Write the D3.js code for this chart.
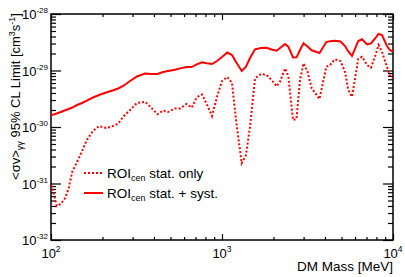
<!DOCTYPE html>
<html>
<head>
<meta charset="utf-8">
<script src="https://d3js.org/d3.v7.min.js"></script>
<style>
body { margin: 0; background: #fff; }
text { font-family: "Liberation Sans", Arial, Helvetica, sans-serif; fill: #000; }
</style>
</head>
<body>
<div id="chart"></div>
<script>
// DM mass points [MeV]
var mass = [100, 104, 108, 114, 121, 127, 133, 142, 152, 162, 176, 191, 210, 231, 247, 267, 290, 318, 355, 385,
  420, 452, 483, 531, 568, 620, 665, 711, 764, 814, 874, 935, 1000, 1074, 1144, 1208, 1304, 1381, 1458, 1560,
  1690, 1826, 1948, 2089, 2184, 2336, 2442, 2602, 2728, 2858, 2998, 3162, 3347, 3717, 4074, 4281, 4578, 4932,
  5241, 5477, 5757, 6268, 6588, 7047, 7433, 7903, 8226, 8626, 9188, 9539, 10000];

// ROI_cen stat. only
var statOnly = [9.41e-32, 6.52e-32, 4.00e-32, 4.34e-32, 5.54e-32, 8.32e-32, 1.60e-31, 2.40e-31, 3.76e-31, 5.89e-31,
  8.50e-31, 1.04e-30, 9.60e-31, 1.04e-30, 1.15e-30, 1.57e-30, 2.00e-30, 2.66e-30, 2.80e-30, 2.21e-30,
  1.68e-30, 1.96e-30, 1.84e-30, 2.13e-30, 2.13e-30, 2.55e-30, 2.20e-30, 3.33e-30, 3.76e-30, 2.55e-30,
  1.57e-30, 3.40e-30, 6.52e-30, 7.67e-30, 6.01e-30, 1.33e-30, 2.28e-31, 3.19e-31, 1.00e-30, 7.28e-30,
  8.67e-30, 8.32e-30, 6.79e-30, 5.25e-30, 6.34e-30, 1.09e-29, 7.99e-30, 1.33e-30, 1.39e-30, 6.79e-30,
  1.34e-29, 9.52e-30, 4.84e-30, 3.13e-30, 1.17e-29, 1.25e-29, 1.58e-29, 1.47e-29, 9.41e-30, 4.52e-30,
  3.44e-30, 1.62e-29, 1.75e-29, 1.25e-29, 1.12e-29, 1.88e-29, 2.83e-29, 2.13e-29, 1.20e-29, 8.32e-30,
  7.22e-30];

// ROI_cen stat. + syst.
var statSyst = [1.63e-30, 1.66e-30, 1.73e-30, 1.84e-30, 1.98e-30, 2.08e-30, 2.21e-30, 2.45e-30, 2.66e-30, 2.94e-30,
  3.33e-30, 3.68e-30, 4.08e-30, 4.46e-30, 4.80e-30, 5.43e-30, 6.52e-30, 7.83e-30, 8.85e-30, 8.67e-30,
  8.67e-30, 9.41e-30, 9.80e-30, 1.03e-29, 1.09e-29, 1.15e-29, 1.15e-29, 1.28e-29, 1.40e-29, 1.34e-29,
  1.30e-29, 1.47e-29, 1.73e-29, 2.08e-29, 1.88e-29, 1.41e-29, 9.80e-30, 1.17e-29, 1.66e-29, 2.37e-29,
  2.50e-29, 2.53e-29, 2.35e-29, 2.24e-29, 2.50e-29, 2.94e-29, 2.64e-29, 1.70e-29, 1.71e-29, 2.31e-29,
  3.03e-29, 2.66e-29, 2.28e-29, 2.04e-29, 3.19e-29, 3.29e-29, 3.37e-29, 3.26e-29, 2.71e-29, 2.17e-29,
  1.81e-29, 3.33e-29, 3.57e-29, 2.89e-29, 3.01e-29, 3.76e-29, 4.43e-29, 4.25e-29, 2.77e-29, 2.35e-29,
  2.13e-29];

var xTicks = [100, 1000, 10000];
var xTickExp = ["2", "3", "4"];
var yTicks = [1e-32, 1e-31, 1e-30, 1e-29, 1e-28];
var yTickExp = ["-32", "-31", "-30", "-29", "-28"];

var margin = {top: 14, right: 12, bottom: 37, left: 51};
var width = 405, height = 277;
var w = width - margin.left - margin.right;
var h = height - margin.top - margin.bottom;

var x = d3.scaleLog().domain([100, 10000]).range([0, w]);
var y = d3.scaleLog().domain([1e-32, 1e-28]).range([h, 0]);

function minors(ticks) {
  var out = [];
  for (var i = 0; i < ticks.length - 1; i++) {
    for (var k = 2; k <= 9; k++) out.push(ticks[i] * k);
  }
  return out;
}

var svg = d3.select("#chart").append("svg")
  .attr("width", width)
  .attr("height", height)
  .append("g")
  .attr("transform", "translate(" + margin.left + "," + margin.top + ")");

// inward ticks on all four sides
function drawAxis(axis, tf) {
  var g = svg.append("g").attr("transform", tf).call(axis);
  g.select(".domain").remove();
  g.selectAll("line").attr("stroke", "#000").attr("stroke-width", 1.2);
}
drawAxis(d3.axisBottom(x).tickValues(minors(xTicks)).tickSize(-3).tickFormat(""), "translate(0," + h + ")");
drawAxis(d3.axisBottom(x).tickValues(xTicks).tickSize(-6).tickFormat(""), "translate(0," + h + ")");
drawAxis(d3.axisTop(x).tickValues(minors(xTicks)).tickSize(-3).tickFormat(""), "translate(0,0)");
drawAxis(d3.axisTop(x).tickValues(xTicks).tickSize(-6).tickFormat(""), "translate(0,0)");
drawAxis(d3.axisLeft(y).tickValues(minors(yTicks)).tickSize(-5).tickFormat(""), "translate(0,0)");
drawAxis(d3.axisLeft(y).tickValues(yTicks).tickSize(-10).tickFormat(""), "translate(0,0)");
drawAxis(d3.axisRight(y).tickValues(minors(yTicks)).tickSize(-5).tickFormat(""), "translate(" + w + ",0)");
drawAxis(d3.axisRight(y).tickValues(yTicks).tickSize(-10).tickFormat(""), "translate(" + w + ",0)");

svg.append("rect")
  .attr("width", w).attr("height", h)
  .attr("fill", "none").attr("stroke", "#000").attr("stroke-width", 1.5);

// tick labels
xTicks.forEach(function(d, i) {
  var t = svg.append("text")
    .attr("x", x(d)).attr("y", h + 18)
    .attr("text-anchor", "middle")
    .style("font-size", "13px");
  t.append("tspan").text("10");
  t.append("tspan").attr("dy", -6).style("font-size", "8.5px").text(xTickExp[i]);
});
yTicks.forEach(function(d, i) {
  var t = svg.append("text")
    .attr("x", -3).attr("y", y(d) + 5)
    .attr("text-anchor", "end")
    .style("font-size", "13px");
  t.append("tspan").text("10");
  t.append("tspan").attr("dy", -6).style("font-size", "8px").text(yTickExp[i]);
});

// axis titles
svg.append("text")
  .attr("x", w).attr("y", h + 31)
  .attr("text-anchor", "end")
  .style("font-size", "13.5px")
  .text("DM Mass [MeV]");

var yt = svg.append("text")
  .attr("transform", "translate(" + (19.5 - margin.left) + ",-1) rotate(-90)")
  .attr("text-anchor", "end")
  .style("font-size", "13px");
yt.append("tspan").text("<σv>");
yt.append("tspan").attr("dy", 3).style("font-size", "9px").text("γγ");
yt.append("tspan").attr("dy", -3).text(" 95% CL Limit [cm");
yt.append("tspan").attr("dy", -5).style("font-size", "9px").text("3");
yt.append("tspan").attr("dy", 5).text("s");
yt.append("tspan").attr("dy", -5).style("font-size", "9px").text("-1");
yt.append("tspan").attr("dy", 5).text("]");

// curves
var line = d3.line()
  .x(function(d) { return x(d[0]); })
  .y(function(d) { return y(d[1]); });

svg.append("path")
  .datum(d3.zip(mass, statOnly))
  .attr("d", line)
  .attr("fill", "none")
  .attr("stroke", "#ff0000")
  .attr("stroke-width", 2)
  .attr("stroke-dasharray", "2,2");

svg.append("path")
  .datum(d3.zip(mass, statSyst))
  .attr("d", line)
  .attr("fill", "none")
  .attr("stroke", "#ff0000")
  .attr("stroke-width", 2);

// legend
var legend = [
  {label: " stat. only", dash: "2,2", yy: 159},
  {label: " stat. + syst.", dash: null, yy: 179}
];
legend.forEach(function(l) {
  svg.append("line")
    .attr("x1", 33).attr("x2", 52)
    .attr("y1", l.yy).attr("y2", l.yy)
    .attr("stroke", "#ff0000").attr("stroke-width", 2)
    .attr("stroke-dasharray", l.dash);
  var t = svg.append("text")
    .attr("x", 56).attr("y", l.yy + 5)
    .style("font-size", "13.5px");
  t.append("tspan").text("ROI");
  t.append("tspan").attr("dy", 3).style("font-size", "9px").text("cen");
  t.append("tspan").attr("dy", -3).text(l.label);
});
</script>
</body>
</html>
